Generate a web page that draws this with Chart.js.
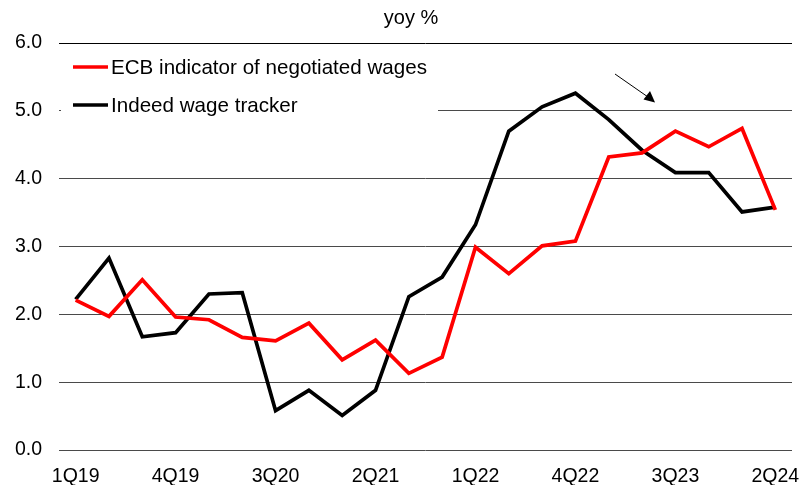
<!DOCTYPE html>
<html>
<head>
<meta charset="utf-8">
<script src="https://cdn.jsdelivr.net/npm/chart.js@4.4.1/dist/chart.umd.min.js"></script>
<style>
html,body{margin:0;padding:0;background:#fff;}
#wrap{width:802px;height:485px;position:relative;}
</style>
</head>
<body>
<div id="wrap"><canvas id="c" width="802" height="485"></canvas></div>
<script>
const categories = ["1Q19","2Q19","3Q19","4Q19","1Q20","2Q20","3Q20","4Q20","1Q21","2Q21","3Q21","4Q21","1Q22","2Q22","3Q22","4Q22","1Q23","2Q23","3Q23","4Q23","1Q24","2Q24"];
const ecbValues = [2.21,1.97,2.51,1.96,1.92,1.66,1.61,1.87,1.33,1.62,1.13,1.37,2.99,2.60,3.01,3.08,4.32,4.38,4.70,4.47,4.74,3.54];
const indeedValues = [2.22,2.83,1.67,1.73,2.30,2.32,0.58,0.88,0.51,0.88,2.26,2.55,3.32,4.70,5.06,5.26,4.87,4.42,4.09,4.09,3.51,3.58];
const seriesLabels = ["ECB indicator of negotiated wages","Indeed wage tracker"];
const yTicks = [0,1,2,3,4,5,6];
const unitLabel = "yoy %";

const FONT = "'Liberation Sans', Arial, sans-serif";

const overlay = {
  id: 'overlay',
  beforeDatasetsDraw(chart) {
    const ctx = chart.ctx;
    ctx.save();
    ctx.fillStyle = '#ffffff';
    ctx.fillRect(61, 50, 377, 72);
    ctx.restore();
  },
  afterDraw(chart) {
    const ctx = chart.ctx;
    ctx.save();
    // unit title
    ctx.fillStyle = '#000';
    ctx.font = "20px " + FONT;
    ctx.textAlign = 'center';
    ctx.textBaseline = 'middle';
    ctx.fillText(unitLabel, 411, 18);
    // legend
    const ds = chart.data.datasets;
    const rows = [67, 105];
    ds.forEach((d, i) => {
      ctx.strokeStyle = d.borderColor;
      ctx.lineWidth = 3.5;
      ctx.beginPath();
      ctx.moveTo(73, rows[i]);
      ctx.lineTo(108, rows[i]);
      ctx.stroke();
      ctx.fillStyle = '#000';
      ctx.font = "20.6px " + FONT;
      ctx.textAlign = 'left';
      ctx.textBaseline = 'middle';
      ctx.fillText(d.label, 111, rows[i] + 1);
    });
    // arrow
    ctx.strokeStyle = '#000';
    ctx.lineWidth = 1;
    ctx.beginPath();
    ctx.moveTo(615, 74);
    ctx.lineTo(648, 97);
    ctx.stroke();
    ctx.fillStyle = '#000';
    ctx.beginPath();
    ctx.moveTo(655, 102.5);
    ctx.lineTo(643.5, 99.5);
    ctx.lineTo(650, 91);
    ctx.closePath();
    ctx.fill();
    ctx.restore();
  }
};

new Chart(document.getElementById('c'), {
  type: 'line',
  data: {
    labels: categories,
    datasets: [
      { label: seriesLabels[0], data: ecbValues, borderColor: '#ff0000', backgroundColor: '#ff0000', borderWidth: 3.7, pointRadius: 0, tension: 0, fill: false, borderJoinStyle: 'miter' },
      { label: seriesLabels[1], data: indeedValues, borderColor: '#000000', backgroundColor: '#000000', borderWidth: 3.7, pointRadius: 0, tension: 0, fill: false, borderJoinStyle: 'miter' }
    ]
  },
  options: {
    responsive: false,
    animation: false,
    devicePixelRatio: 1,
    layout: { padding: { left: 0, right: 10, top: 43, bottom: 0 } },
    plugins: {
      legend: { display: false },
      title: { display: false },
      tooltip: { enabled: false }
    },
    scales: {
      x: {
        offset: true,
        grid: { display: false, drawTicks: false },
        border: { display: false },
        ticks: {
          autoSkip: false,
          maxRotation: 0,
          minRotation: 0,
          padding: 15,
          color: '#000',
          font: { family: FONT, size: 19.5 },
          callback: function(v, i) { return i % 3 === 0 ? categories[i] : ''; }
        },
        afterFit(scale) { scale.height = 35; scale.paddingLeft = 0; scale.paddingRight = 0; }
      },
      y: {
        min: 0,
        max: 6,
        afterBuildTicks(scale) { scale.ticks = yTicks.map(v => ({ value: v })); },
        grid: {
          color: c => (c.tick && c.tick.value === 6) ? '#000000' : '#4a4a4a',
          lineWidth: 1,
          drawTicks: false
        },
        border: { display: false },
        ticks: {
          padding: 17,
          color: '#000',
          font: { family: FONT, size: 19.5 },
          callback: v => Number(v).toFixed(1)
        },
        afterFit(scale) { scale.width = 59; scale.paddingTop = 0; scale.paddingBottom = 0; }
      }
    }
  },
  plugins: [overlay]
});
</script>
</body>
</html>
